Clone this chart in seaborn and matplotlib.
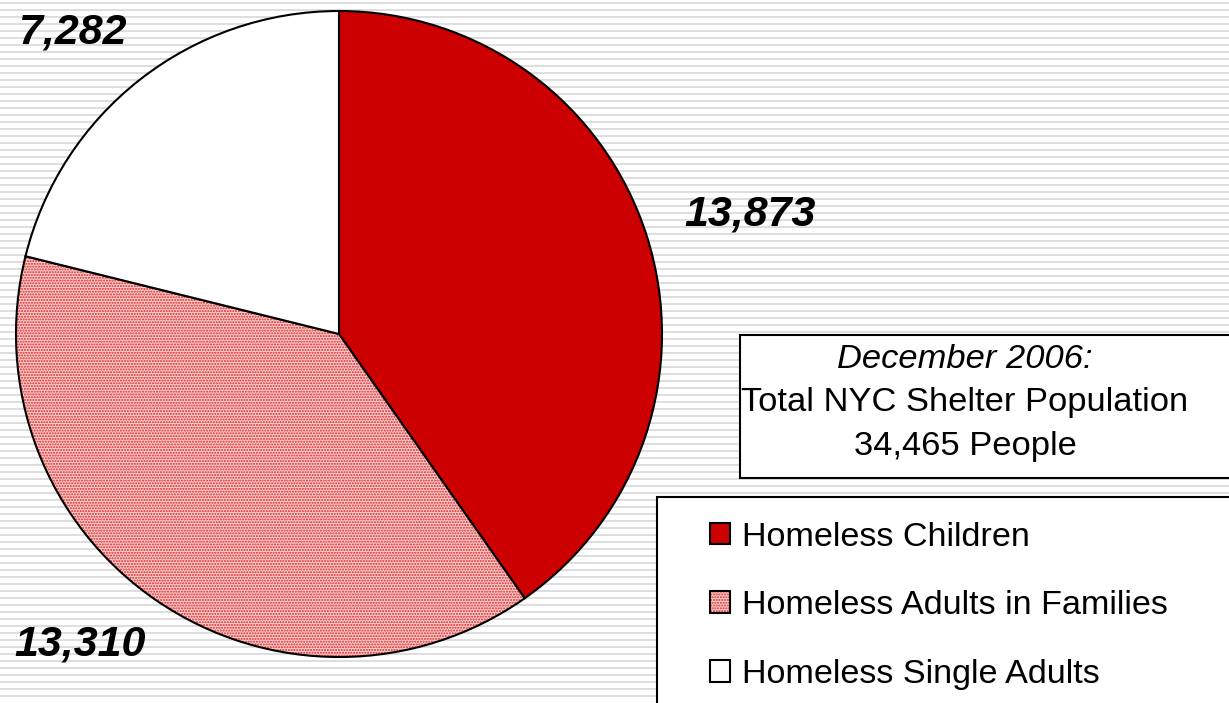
import numpy as np
import seaborn as sns
import matplotlib.pyplot as plt
from matplotlib.patches import Rectangle
from matplotlib.colors import to_rgba

# data
groups = ['Homeless Children', 'Homeless Adults in Families', 'Homeless Single Adults']
counts = [13873, 13310, 7282]
total_people = 34465
slice_colors = ['#cc0000', '#f9d0d0', '#ffffff']
slice_hatches = [None, '......', None]

sns.set_theme(style='white')
plt.rcParams['font.family'] = ['Liberation Sans', 'DejaVu Sans']
plt.rcParams['text.color'] = 'black'

W, H = 1229, 703
fig = plt.figure(figsize=(W / 100, H / 100), dpi=100)

# striped background
bg = fig.add_axes([0, 0, 1, 1], zorder=0)
bg.set_xlim(0, W)
bg.set_ylim(H, 0)
bg.hlines(np.arange(3, H, 7), 0, W, color='#dedede', lw=1.4)
bg.axis('off')


def px_box(x0, y0, x1, y1):
    # pixel box (top-left origin) -> figure fraction rect
    return [x0 / W, 1 - y1 / H, (x1 - x0) / W, (y1 - y0) / H]


# pie
cx, cy, r = 339, 334, 323
ax = fig.add_axes(px_box(cx - r, cy - r, cx + r, cy + r), zorder=2)
wedges, _ = ax.pie(counts, colors=slice_colors, startangle=90, counterclock=False,
                   wedgeprops=dict(edgecolor='black', linewidth=1.5))
for w, h in zip(wedges, slice_hatches):
    if h:
        w.set_hatch(h)
        w._hatch_color = to_rgba('#e02020')
ax.set_xlim(-1, 1)
ax.set_ylim(-1, 1)
ax.set_aspect('equal')
ax.axis('off')

# value labels
label_pos = [(750, 214), (80, 644), (73, 33)]
for (lx, ly), v in zip(label_pos, counts):
    fig.text(lx / W, 1 - ly / H, f'{v:,}', fontsize=31, fontweight='bold', fontstyle='italic',
             ha='center', va='center', zorder=5)

# info box (runs off the right edge)
fig.patches.append(Rectangle((740 / W, 1 - 478 / H), 0.5, 143 / H, transform=fig.transFigure,
                             facecolor='white', edgecolor='black', lw=1.5, zorder=3))
fig.text(965 / W, 1 - 359 / H, 'December 2006:', fontsize=24.8, fontstyle='italic',
         ha='center', va='center', zorder=5)
fig.text(965 / W, 1 - 403 / H, 'Total NYC Shelter Population', fontsize=24.8,
         ha='center', va='center', zorder=5)
fig.text(965 / W, 1 - 446 / H, f'{total_people:,} People', fontsize=24.8,
         ha='center', va='center', zorder=5)

# legend box
fig.patches.append(Rectangle((657 / W, -0.05), 0.5, (1 - 497 / H) + 0.05, transform=fig.transFigure,
                             facecolor='white', edgecolor='black', lw=1.5, zorder=3))
leg = fig.legend(wedges, groups, loc='upper left', bbox_to_anchor=(696 / W, 1 - 508 / H),
                 frameon=False, fontsize=24.6, handlelength=0.6, handleheight=0.6,
                 handletextpad=0.35, labelspacing=1.1, borderaxespad=0)
leg.set_zorder(6)
for h in leg.legend_handles:
    h.set_linewidth(1.5)
    if h.get_hatch():
        h._hatch_color = to_rgba('#e02020')

fig.savefig('out.png', dpi=100)
